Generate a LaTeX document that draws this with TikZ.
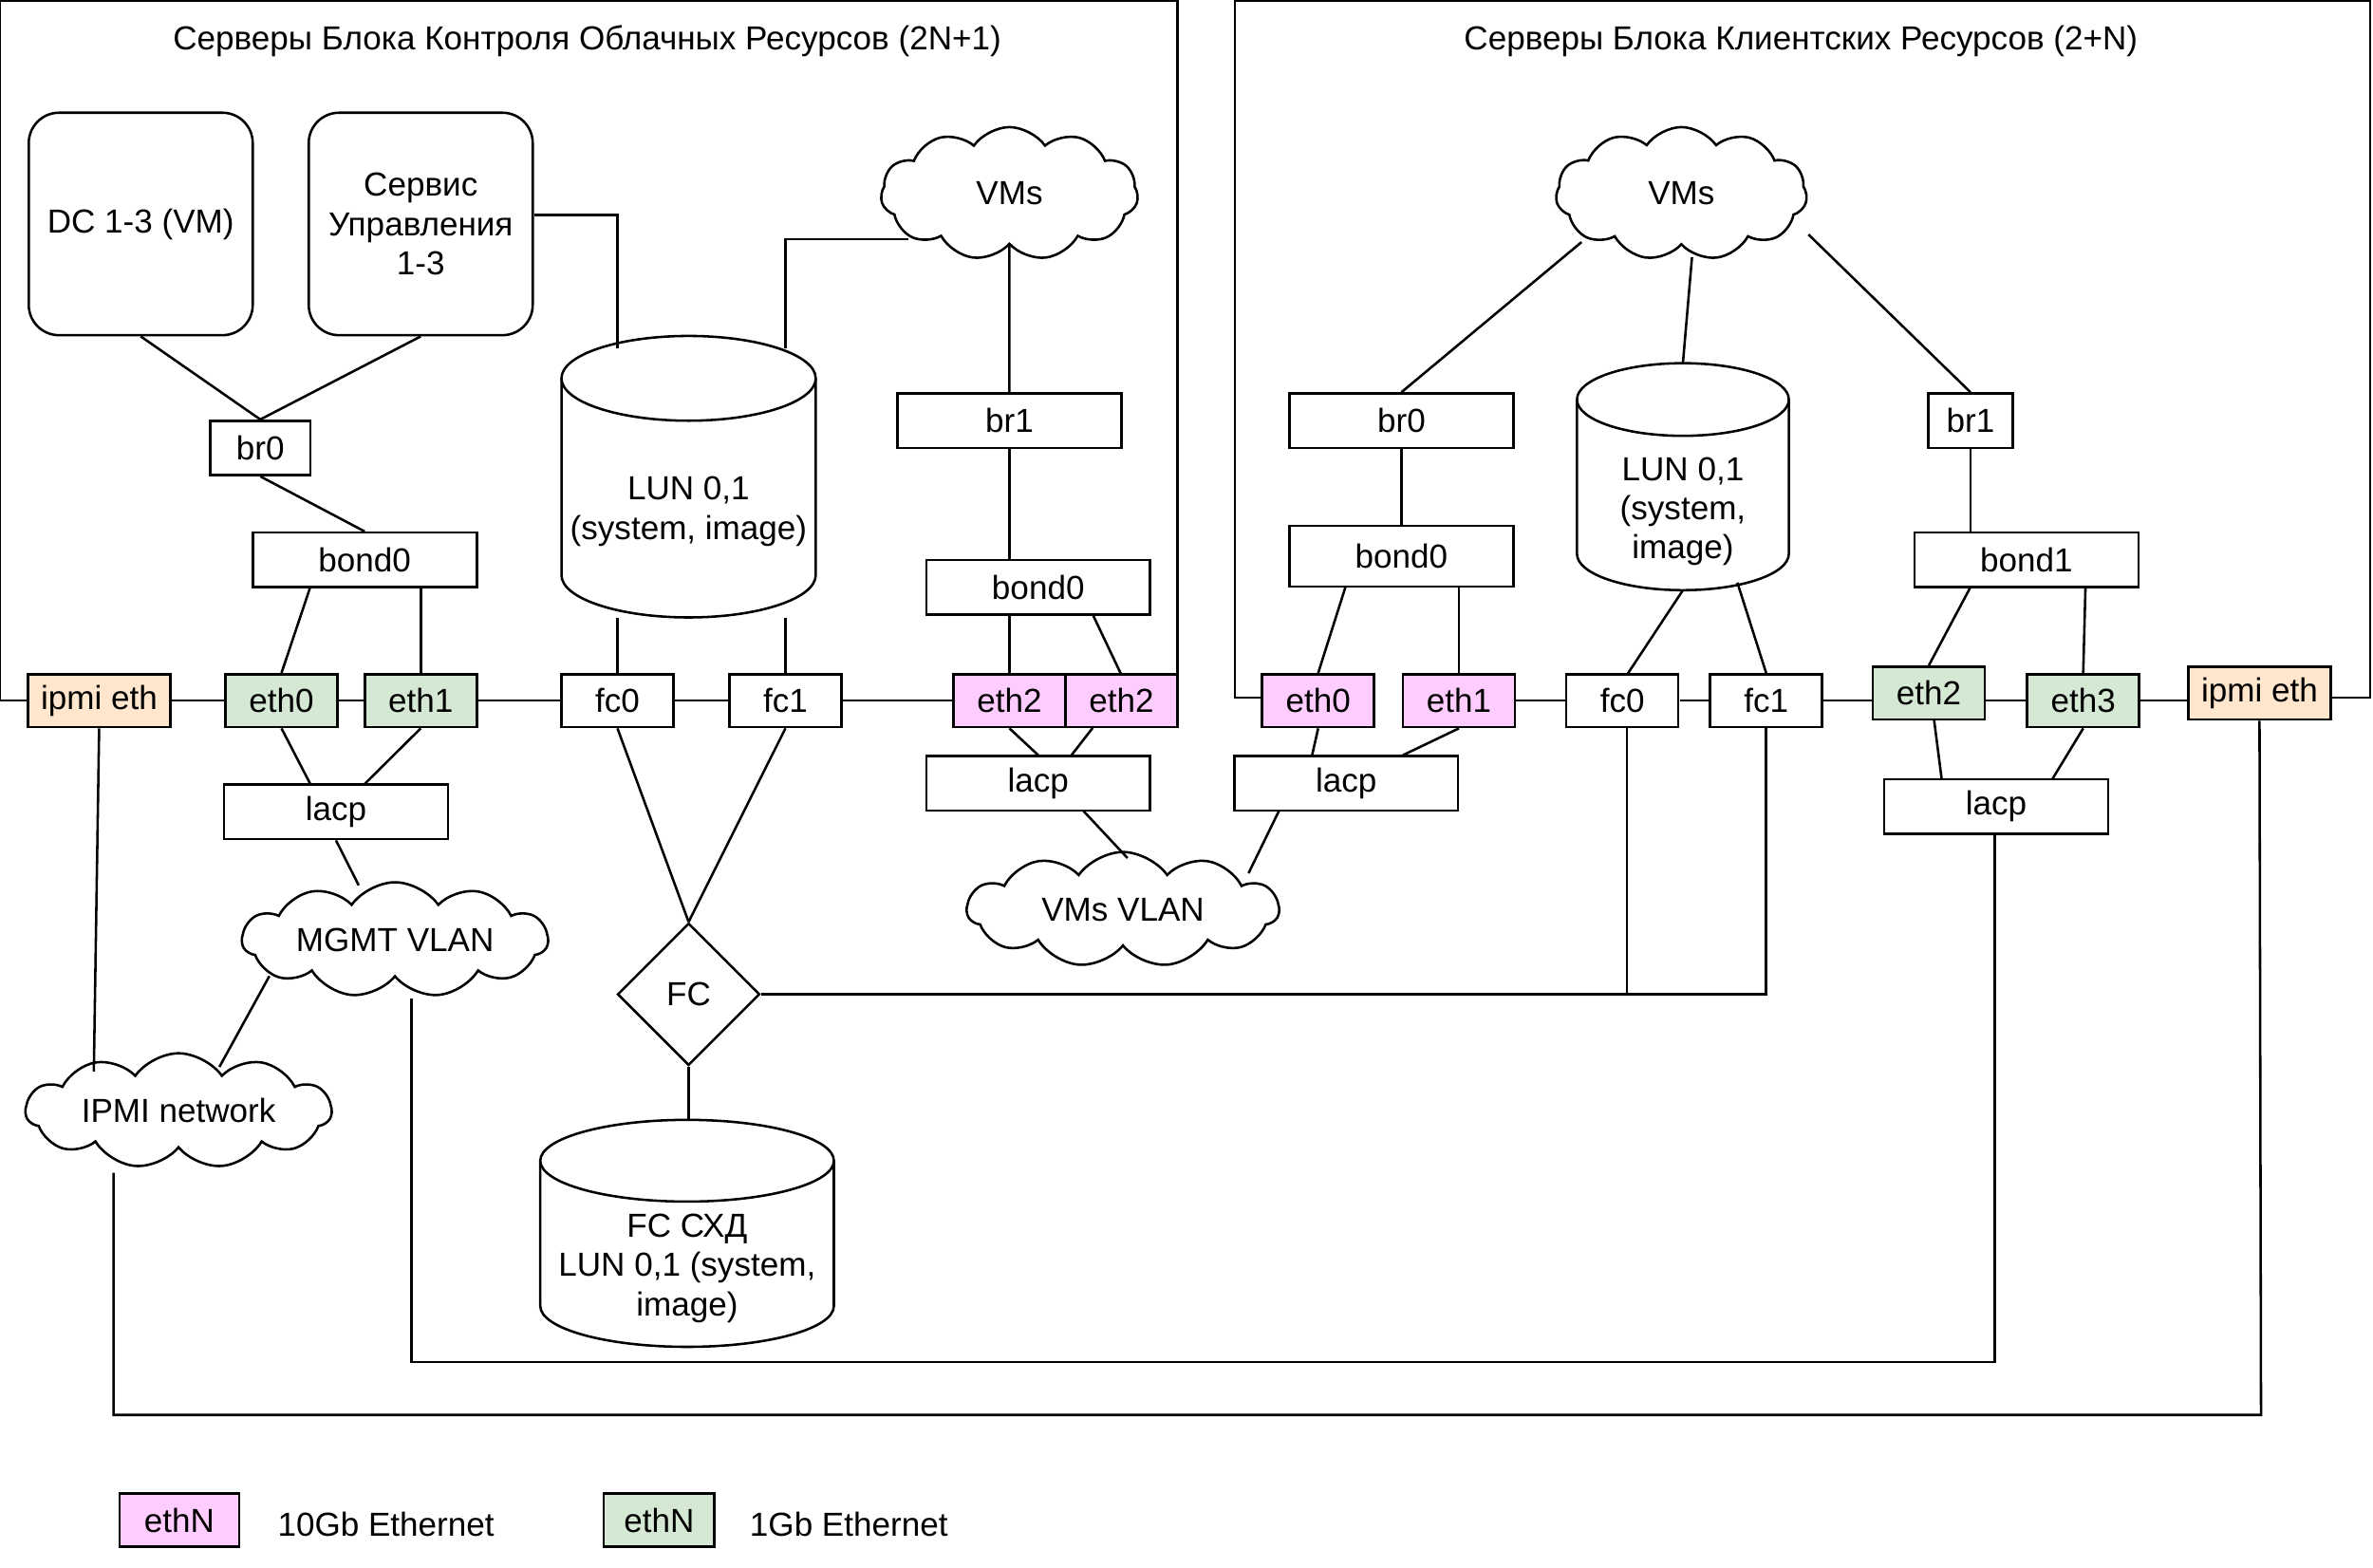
\documentclass[tikz,border=0pt]{standalone}
\usepackage{fontspec}
\setmainfont{Liberation Sans}
\usetikzlibrary{shapes.geometric,shapes.symbols}
\definecolor{pinkc}{HTML}{FFCCFF}
\definecolor{greenc}{HTML}{D5E8D4}
\definecolor{peach}{HTML}{FFE6CC}
\begin{document}
\begin{tikzpicture}[x=0.5pt,y=-0.5pt,line width=0.8pt,
  every node/.style={font=\fontsize{11}{13}\selectfont,align=center},
  box/.style={draw,fill=white,minimum width=74pt,minimum height=18pt,inner sep=1pt},
  sbox/.style={draw,fill=white,minimum width=37pt,minimum height=17.5pt,inner sep=1pt},
  pk/.style={sbox,fill=pinkc}, gr/.style={sbox,fill=greenc}, pe/.style={sbox,minimum width=47pt,fill=peach},
  rbox/.style={draw,rounded corners=10pt,minimum width=74pt,minimum height=73.5pt},
  cl/.style={cloud,draw,fill=white,cloud puffs=11,cloud puff arc=110,inner sep=0pt,cloud ignores aspect},
  lbl/.style={font=\fontsize{11}{13}\selectfont}]
\useasboundingbox (0,0) rectangle (1568,1036);
% frames
\draw (0,463) -- (0,0.5) -- (778,0.5) -- (778,463);
\draw (0,463) -- (778,463);
\draw (834,461) -- (816,461) -- (816,0.5) -- (1566,0.5) -- (1566,461) -- (1540,461);
\draw (1000,463) -- (1035,463) (1110,463)--(1130,463) (1204,463)--(1237,463) ;
\node at (388,27) {Серверы Блока Контроля Облачных Ресурсов (2N+1)};
\node at (1190,27) {Серверы Блока Клиентских Ресурсов (2+N)};
% left block
\node[rbox] (dc) at (93,148) {DC 1-3 (VM)};
\node[rbox] (srv) at (278,148) {Сервис\\Управления\\1-3};
\node[sbox,minimum width=33pt,minimum height=18pt] (br0) at (172,296) {br0};
\node[box] (bond0) at (241,370) {bond0};
\node[pe] (ipmi) at (65.5,463) {ipmi eth};
\node[gr] (eth0) at (186,463) {eth0};
\node[gr] (eth1) at (278,463) {eth1};
\node[sbox] (fc0) at (408,463) {fc0};
\node[sbox] (fc1) at (519,463) {fc1};
\node[pk] (eth2) at (667,463) {eth2};
\node[pk] (eth2b) at (741,463) {eth2};
\node[box] (lacp) at (222,536.5) {lacp};
% LUN cylinder left
\draw[fill=white] (371,250) -- (371,380) arc (180:360:42pt and 14pt) -- (539,250);
\draw[fill=white] (455,250) ellipse (42pt and 14pt);
\node (lun) at (455,338) {LUN 0,1\\(system, image)};
\coordinate (lunA) at (408,230); \coordinate (lunB) at (519,230);
\coordinate (lunC) at (408,408); \coordinate (lunD) at (519,408);
\node[cl,minimum width=85pt,minimum height=44pt] (vms) at (667,128) {VMs};
\node[box] (br1) at (667,278) {br1};
\node[box] (bondb) at (686,388) {bond0};
\node[box] (lacp2) at (686,517.5) {lacp};
\node[cl,minimum width=103pt,minimum height=38pt] (vlan) at (742,601) {VMs VLAN};
\node[cl,minimum width=101pt,minimum height=38pt] (mgmt) at (261,621) {MGMT VLAN};
\node[cl,minimum width=101pt,minimum height=38pt] (ipminet) at (118,734) {IPMI network};
\node[diamond,draw,fill=white,minimum width=47pt,minimum height=47pt,inner sep=0pt] (fc) at (455,657) {FC};
\draw[fill=white] (357,767) -- (357,863) arc (180:360:48.5pt and 13.5pt) -- (551,767);
\draw[fill=white] (454,767) ellipse (48.5pt and 13.5pt);
\node (sxd) at (454,838) {FC СХД\\LUN 0,1 (system,\\image)};
\coordinate (sxdT) at (455,740);
% right block
\node[cl,minimum width=83pt,minimum height=44pt] (vmsr) at (1111,128) {VMs};
\node[box] (br0r) at (926,278) {br0};
\node[sbox,minimum width=28pt,minimum height=18pt] (br1r) at (1302,278) {br1};
\draw[fill=white] (1042,264) -- (1042,366) arc (180:360:35pt and 12pt) -- (1182,264);
\draw[fill=white] (1112,264) ellipse (35pt and 12pt);
\node at (1112,338) {LUN 0,1\\(system,\\image)};
\coordinate (lunrT) at (1112,240); \coordinate (lunrA) at (1112,390); \coordinate (lunrB) at (1148,385);
\node[box,minimum height=20pt] (bond0r) at (926,367.5) {bond0};
\node[box] (bond1r) at (1339,370) {bond1};
\node[pk] (eth0r) at (871,463) {eth0};
\node[pk] (eth1r) at (964,463) {eth1};
\node[sbox] (fc0r) at (1072,463) {fc0};
\node[sbox] (fc1r) at (1167,463) {fc1};
\node[gr] (eth2r) at (1274.5,458) {eth2};
\node[gr] (eth3r) at (1376.5,463) {eth3};
\node[pe] (ipmir) at (1493,458) {ipmi eth};
\node[box] (lacpm) at (889.5,517.5) {lacp};
\node[box] (lacpr) at (1319,533) {lacp};
\draw (1312,463) -- (eth3r);
\draw (eth3r) -- (1446,463);
% legend
\node[pk,minimum width=39.5pt] (lg1) at (118.5,1004.5) {ethN};
\node[lbl,anchor=west] at (176,1007) {10Gb Ethernet};
\node[gr,minimum width=36.5pt] (lg2) at (435.5,1004.5) {ethN};
\node[lbl,anchor=west] at (488,1007) {1Gb Ethernet};
% connectors left
\draw (dc.south) -- (br0.north);
\draw (srv.south) -- (br0.north);
\draw (br0.south) -- (bond0.north);
\draw (205,388) -- (eth0.north); \draw (278,388) -- (eth1.north);
\draw (eth0.south) -- (205,518); \draw (eth1.south) -- (241,518);
\draw (lacp.south) -- (237,585);
\draw (178,645) -- (145,705);
\draw (ipmi.south) -- (62,708);
\draw (srv.east |- 142,142) -- (408,142) -- (lunA);
\draw (600,158) -- (519,158) -- (lunB);
\draw (lunC) -- (fc0.north); \draw (lunD) -- (fc1.north);
\draw (fc0.south) -- (fc.north); \draw (fc1.south) -- (fc.north);
\draw (vms.south) -- (br1.north);
\draw (br1.south) -- (667,370);
\draw (667,406) -- (eth2.north); \draw (722,406) -- (741,446);
\draw (eth2.south) -- (686,499); \draw (722,481) -- (708,499);
\draw (716,536) -- (745,567);
\draw (845,536) -- (825,577);
\draw (fc.south) -- (sxdT);
\draw (fc.east) -- (1075,657) -- (fc0r.south -| 1075,0);
\draw (1075,657) -- (1167,657) -- (fc1r.south);
\draw (272,660) -- (272,900) -- (1318,900) -- (1318,551);
\draw (75,775) -- (75,935) -- (1494,935) -- (ipmir.south);
% connectors right
\draw (1045,160) -- (br0r.north);
\draw (1118,170) -- (lunrT);
\draw (1195,155) -- (br1r.north);
\draw (br0r.south) -- (bond0r.north);
\draw (br1r.south) -- (1302,352);
\draw (889,388) -- (eth0r.north); \draw (964,388) -- (eth1r.north);
\draw (eth0r.south) -- (867,499); \draw (eth1r.south) -- (927,499);
\draw (lunrA) -- (1075,446); \draw (lunrB) -- (fc1r.north);
\draw (1302,388) -- (eth2r.north); \draw (1378,388) -- (eth3r.north);
\draw (1278,476) -- (1283,515); \draw (eth3r.south) -- (1356,515);
\end{tikzpicture}
\end{document}
